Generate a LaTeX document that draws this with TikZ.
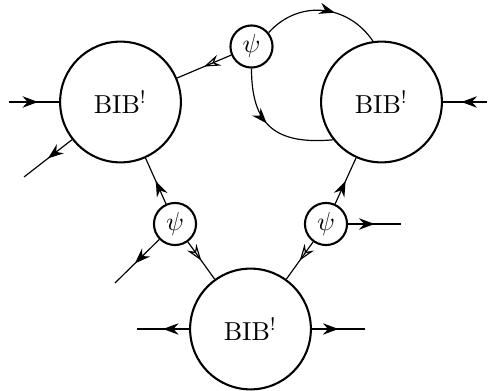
\documentclass[tikz,border=0pt]{standalone}
\usetikzlibrary{arrows.meta,decorations.markings}
\begin{document}
\begin{tikzpicture}[x=0.385pt,y=-0.385pt,
  big/.style={circle,draw,line width=0.8pt,minimum size=46.5pt,inner sep=0pt},
  small/.style={circle,draw,line width=0.8pt,minimum size=16.2pt,inner sep=0pt},
  ln/.style={line width=0.45pt},
  midarr/.style={ln,postaction={decorate},decoration={markings,mark=at position #1 with {\arrow{Stealth[length=6pt,width=4.4pt,inset=2pt]}}}},
  midarr/.default=0.5,
  midopen/.style={ln,postaction={decorate},decoration={markings,mark=at position #1 with {\arrow{Stealth[open,length=6.3pt,width=4.4pt,inset=2.2pt]}}}},
  midopen/.default=0.5]
\useasboundingbox (0,0) rectangle (488,391);
\node[big] (L) at (120.5,102) {BIB$^!$};
\node[big] (R) at (381.5,102) {BIB$^!$};
\node[big] (B) at (250.5,329) {BIB$^!$};
\node[small] (pT) at (251.5,46.5) {$\psi$};
\node[small] (pL) at (175,224) {$\psi$};
\node[small] (pR) at (326,224) {$\psi$};
\coordinate (cL) at (9,102);
\coordinate (cLL) at (24,177);
\coordinate (cR) at (487,102);
\coordinate (cBL) at (115,283);
\coordinate (cBR) at (401,224);
\coordinate (cBl) at (137,329);
\coordinate (cBr) at (365,329);
\draw[midarr=0.58] (cL) -- (L);
\draw[midarr] (L) -- (cLL);
\draw[midopen] (pT) -- (L);
\draw[midarr=0.6] (pT.39) to[out=48,in=124,looseness=1.1] (R.98);
\draw[midarr=0.45] (pT.south) to[out=-90,in=185,looseness=1.35] (R.218);
\draw[midarr=0.58] (cR) -- (R);
\draw[midarr] (pL) -- (L);
\draw[midarr=0.55] (pL) -- (cBL);
\draw[midopen] (pL) -- (B);
\draw[midarr] (pR) -- (R);
\draw[midarr] (pR) -- (cBR);
\draw[midopen] (pR) -- (B);
\draw[midarr] (B) -- (cBl);
\draw[midarr] (B) -- (cBr);
\end{tikzpicture}
\end{document}
